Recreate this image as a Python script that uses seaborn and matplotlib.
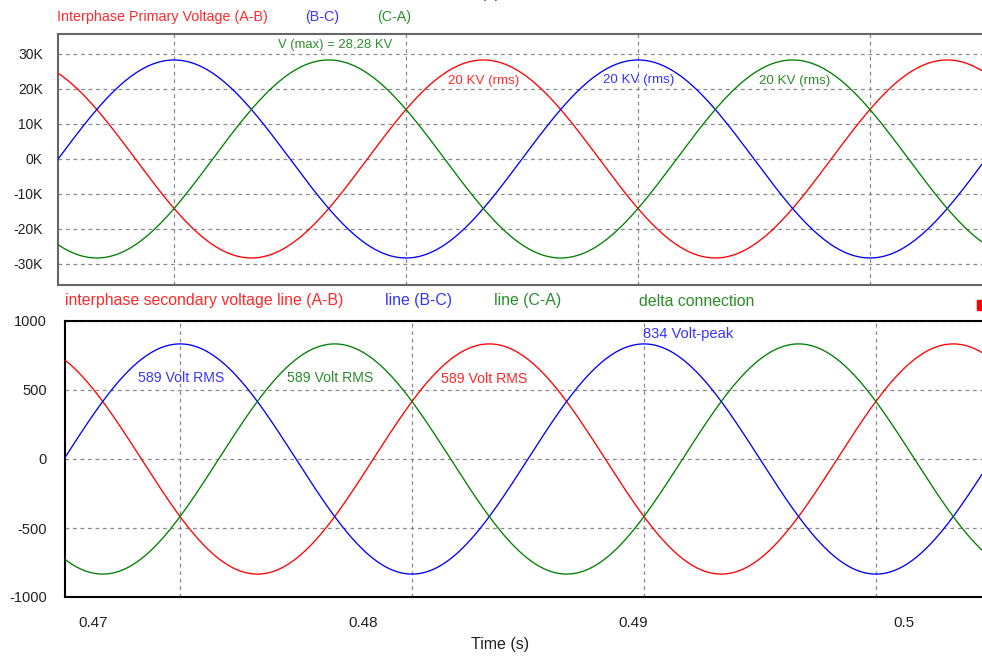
import numpy as np
import pandas as pd
import matplotlib
matplotlib.use("Agg")
import matplotlib.pyplot as plt
from matplotlib.ticker import FixedLocator
from matplotlib.patches import Rectangle
import seaborn as sns

# ---------------- data ----------------
series_top = ["A-B", "B-C", "C-A"]
series_bot = ["A-B", "B-C", "C-A"]
colors = {"A-B": "#FF0000", "B-C": "#0000FF", "C-A": "#008000"}
phase_shift_deg = {"A-B": 120.0, "B-C": 0.0, "C-A": -120.0}

period_s = 0.01716            # period of the waveforms (s)
peak_top = 28284.0            # V (max) = 28,28 KV
peak_bot = 834.0              # 834 Volt-peak
blue_peak_top = 0.47300       # time of a (B-C) maximum, top panel
blue_peak_bot = 0.47322       # time of a (B-C) maximum, bottom panel

top_yticks = [30000, 20000, 10000, 0, -10000, -20000, -30000]
top_yticklabels = ["30K", "20K", "10K", "0K", "-10K", "-20K", "-30K"]
bot_yticks = [1000, 500, 0, -500, -1000]
bot_yticklabels = ["1000", "500", "0", "-500", "-1000"]
xticks = [0.47, 0.48, 0.49, 0.50]
xticklabels = ["0.47", "0.48", "0.49", "0.5"]

# ---------------- layout helpers ----------------
W, H = 982, 656
PX_PER_S = 27033.0
def t_of(px):
    return 0.47 + (px - 93) / PX_PER_S
def fx(px):
    return px / W
def fy(py):
    return 1 - py / H

sns.set_style("white")
plt.rcParams["font.family"] = ["Liberation Sans", "DejaVu Sans"]

fig = plt.figure(figsize=(W / 100, H / 100), dpi=100)
ax_top = fig.add_axes([fx(58), fy(285), fx(982 - 58), (285 - 34) / H])
ax_bot = fig.add_axes([fx(65), fy(597), fx(982 - 65), (597 - 321) / H])

def build(peak, t_peak, tmin, tmax, names):
    t = np.linspace(tmin, tmax, 1500)
    rows = []
    for s in names:
        v = peak * np.cos(2 * np.pi * (t - t_peak) / period_s + np.deg2rad(phase_shift_deg[s]))
        rows.append(pd.DataFrame({"time": t, "voltage": v, "series": s}))
    return pd.concat(rows, ignore_index=True)

xl_top = (t_of(58), t_of(982))
xl_bot = (t_of(65), t_of(982))
df_top = build(peak_top, blue_peak_top, *xl_top, series_top)
df_bot = build(peak_bot, blue_peak_bot, *xl_bot, series_bot)

grid_kw = dict(color="#8a8a8a", linestyle=(0, (3, 3)), linewidth=0.9)

for ax, df, xl, tpk, frame_c in [
    (ax_top, df_top, xl_top, blue_peak_top, "#666666"),
    (ax_bot, df_bot, xl_bot, blue_peak_bot, "#000000"),
]:
    sns.lineplot(data=df, x="time", y="voltage", hue="series", palette=colors,
                 estimator=None, legend=False, linewidth=0.95, ax=ax, zorder=3)
    ax.set_xlim(*xl)
    ax.set_xlabel("")
    ax.set_ylabel("")
    k = np.arange(-2, 8)
    gt = tpk + k * period_s / 2
    gt = gt[(gt > xl[0]) & (gt < xl[1])]
    ax.xaxis.set_minor_locator(FixedLocator(gt))
    ax.set_axisbelow(True)
    ax.grid(axis="x", which="minor", **grid_kw)
    ax.grid(axis="y", which="major", **grid_kw)
    ax.grid(axis="x", which="major", visible=False)
    ax.tick_params(which="both", length=0)
    for sp in ["left", "top", "bottom"]:
        ax.spines[sp].set_visible(True)
        ax.spines[sp].set_color(frame_c)
        ax.spines[sp].set_linewidth(1.5)
    ax.spines["right"].set_visible(False)

ax_top.set_ylim(-36000, 35700)
ax_top.set_yticks(top_yticks)
ax_top.set_yticklabels(top_yticklabels)
ax_top.set_xticks([])
ax_top.tick_params(axis="y", labelsize=10, pad=11, labelcolor="#222222")

ax_bot.set_ylim(-1000, 1000)
ax_bot.set_yticks(bot_yticks)
ax_bot.set_yticklabels(bot_yticklabels)
ax_bot.set_xticks(xticks)
ax_bot.set_xticklabels(xticklabels)
ax_bot.tick_params(axis="y", labelsize=10.5, pad=13, labelcolor="#222222")
ax_bot.tick_params(axis="x", labelsize=11, pad=14, labelcolor="#222222")

# ---------------- texts ----------------
RED_T, BLUE_T, GREEN_T = "#FF2A2A", "#3535FF", "#2A8F2A"

fig.text(fx(490), fy(-2), "(a)", ha="center", va="baseline", fontsize=11, color="#333333")

fig.text(fx(57), fy(17), "Interphase Primary Voltage (A-B)", color=RED_T, fontsize=10.3, va="center")
fig.text(fx(305), fy(17), "(B-C)", color=BLUE_T, fontsize=10.3, va="center")
fig.text(fx(377), fy(17), "(C-A)", color=GREEN_T, fontsize=10.3, va="center")

fig.text(fx(65), fy(301), "interphase secondary voltage line (A-B)", color=RED_T, fontsize=11.4, va="center")
fig.text(fx(385), fy(301), "line (B-C)", color=BLUE_T, fontsize=11.4, va="center")
fig.text(fx(494), fy(301), "line (C-A)", color=GREEN_T, fontsize=11.4, va="center")
fig.text(fx(639), fy(301), "delta connection", color=GREEN_T, fontsize=11.4, va="center")
fig.add_artist(Rectangle((fx(977), fy(310)), fx(6), 10 / H, color="#FF0000",
                         transform=fig.transFigure))

def vt(py):   # top panel value at pixel row
    return (159 - py) / 3.5 * 1000
def vb(py):   # bottom panel value at pixel row
    return (459 - py) / 0.138

ax_top.text(t_of(278), vt(45), "V (max) = 28,28 KV", color=GREEN_T, fontsize=9.4, va="center")
ax_top.text(t_of(448), vt(81), "20 KV (rms)", color=RED_T, fontsize=9.6, va="center")
ax_top.text(t_of(603), vt(80), "20 KV (rms)", color=BLUE_T, fontsize=9.6, va="center")
ax_top.text(t_of(759), vt(81), "20 KV (rms)", color=GREEN_T, fontsize=9.6, va="center")

ax_bot.text(t_of(138), vb(378), "589 Volt RMS", color=BLUE_T, fontsize=10.2, va="center")
ax_bot.text(t_of(287), vb(378), "589 Volt RMS", color=GREEN_T, fontsize=10.2, va="center")
ax_bot.text(t_of(441), vb(379), "589 Volt RMS", color=RED_T, fontsize=10.2, va="center")
ax_bot.text(t_of(643), vb(334), "834 Volt-peak", color=BLUE_T, fontsize=10.6, va="center")

fig.text(fx(500), fy(645), "Time (s)", ha="center", va="center", fontsize=11.5, color="#222222")

fig.savefig("out.png", dpi=100)
